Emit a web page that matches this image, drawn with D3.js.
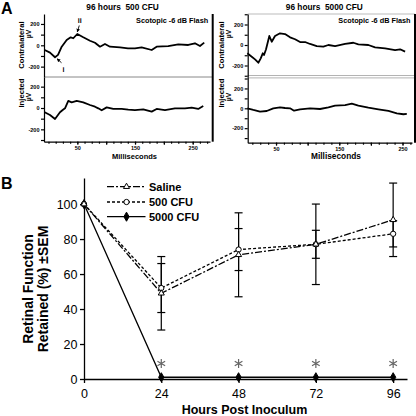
<!DOCTYPE html>
<html><head><meta charset="utf-8">
<script src="https://cdn.jsdelivr.net/npm/d3@7"></script>
<style>
body{margin:0;background:#fff}
svg{display:block}
text{font-family:"Liberation Sans",Arial,Helvetica,sans-serif;fill:#000}
</style>
</head><body>
<svg id="c" width="416" height="416"></svg>
<script>
// ---------------- DATA ----------------
// Panel A: ERG traces, [milliseconds, microvolts]
const contra500 = [[-6.6,-44],[2.6,-69],[11.3,-112],[16.5,-90],[22.9,-13],[31.5,50],[38.5,75],[43,66],[49.9,106],[60.3,75],[71.9,43],[80.6,24],[89.3,-13],[97.9,12],[106.6,-13],[124,-19],[137.8,-28],[149.9,-28],[161.5,-19],[178.9,-44],[187.5,-13],[207.6,-7],[225,9],[242.3,3],[253.9,19],[262.6,-7],[270,25]];
const inj500 = [[-6.6,-40],[2.6,-66],[11.3,-103],[19.9,-40],[24.6,-19],[28.6,-3],[34.3,66],[40.2,53],[48.9,66],[60.3,53],[71.9,28],[80.6,12],[86.3,-3],[92.2,-22],[100.9,6],[112.3,-9],[126.9,-9],[138.3,-16],[149.9,-19],[164.3,-12],[178.9,-34],[187.5,-9],[201.9,-19],[219.2,-3],[236.6,-3],[248.2,3],[259.6,-9],[268.3,19]];
const contra5000 = [[4.6,-81],[11.6,-114],[16.8,-140],[22,-173],[25.8,-130],[29,-81],[31,-98],[34.2,-42],[39.4,88],[43.2,32],[48.4,88],[56.3,114],[64.2,107],[72.2,75],[80.1,56],[88,29],[95.9,29],[103.8,10],[114.4,-10],[124.8,-16],[132.8,0],[143.4,-10],[159.2,10],[172.3,22],[180.2,7],[196,0],[206.6,-23],[222.5,-33],[238.3,-49],[246.2,-42],[254.1,-65]];
const inj5000 = [[4.6,0],[14.1,-17],[24.7,-33],[35.3,-27],[45.7,0],[56.3,10],[64.2,3],[72.2,0],[78.5,-24],[88,-10],[103.8,0],[119.6,-7],[132.8,10],[143.4,26],[159.2,33],[169.8,46],[180.2,26],[196,6],[211.9,-10],[227.7,-27],[241,-50],[251.4,-60],[256.8,-57]];
const panelTitles = ["96 hours  500 CFU", "96 hours  5000 CFU"];
const uvTicks = [-300,-200,-100,0,100,200,300];
const uvLabels = [-200,0,200];
const msMajor = [50,100,150,200,250];
const msLabels = [50,150,250];

// Panel B: retinal function retained
const hours = [0,24,48,72,96];
const saline = [100,49,71,77,91];
const salineErr = [0,21,24,23,21];
const cfu500 = [100,52,74,77,83];
const cfu500Err = [0,14,12,8,7.5];
const cfu5000 = [100,1,1,1,1];
const sigHours = [24,48,72,96];
const pctTicks = [0,20,40,60,80,100];
const seriesNames = ["Saline","500 CFU","5000 CFU"];

// ---------------- DRAW ----------------
const svg = d3.select("#c");
const font = "'Liberation Sans',Arial,sans-serif";

svg.append("text").attr("x",1).attr("y",13.5).attr("font-size",16).attr("font-weight","bold").text("A");
svg.append("text").attr("x",1).attr("y",188.5).attr("font-size",16).attr("font-weight","bold").text("B");

const panelsA = [
  {title:panelTitles[0], upper:contra500, lower:inj500, xDom:[-7.8,280], left:44, xEnd:210, border:212.7,
   top:14, mid:77, bottom:141.7, uZero:45.3, uK:0.1067, lZero:108, lK:0.1067,
   titleX:122.5, msX:134.5, msSize:7.5, labX:23.5, uvX:31, topLine:false, doubleSep:false},
  {title:panelTitles[1], upper:contra5000, lower:inj5000, xDom:[5.2,265], left:247.7, xEnd:412, border:415,
   top:14, mid:76.7, bottom:142.7, uZero:45, uK:0.1025, lZero:108.3, lK:0.0993,
   titleX:324.3, msX:336, msSize:8.3, labX:224, uvX:231, topLine:true, doubleSep:true}
];

const defs = svg.append("defs");
defs.append("marker").attr("id","ah").attr("viewBox","0 0 10 10").attr("refX",9).attr("refY",5)
  .attr("markerWidth",4).attr("markerHeight",4).attr("orient","auto")
  .append("path").attr("d","M0,0L10,5L0,10z").attr("fill","#000");

panelsA.forEach((p,i) => {
  const g = svg.append("g");
  const x = d3.scaleLinear().domain(p.xDom).range([p.left,p.xEnd]);
  const yU = d3.scaleLinear().domain([(p.uZero-p.mid)/p.uK,(p.uZero-p.top)/p.uK]).range([p.mid,p.top]);
  const yL = d3.scaleLinear().domain([(p.lZero-p.bottom)/p.lK,(p.lZero-p.mid)/p.lK]).range([p.bottom,p.mid]);

  if (p.topLine) g.append("line").attr("x1",p.left).attr("x2",p.border).attr("y1",p.top).attr("y2",p.top).attr("stroke","#bbb").attr("stroke-width",1);
  if (p.doubleSep) {
    [p.mid-1.2,p.mid+1.2].forEach(yy => g.append("line").attr("x1",p.left).attr("x2",p.border).attr("y1",yy).attr("y2",yy).attr("stroke","#aaa").attr("stroke-width",0.9));
  } else {
    g.append("line").attr("x1",p.left).attr("x2",p.border).attr("y1",p.mid).attr("y2",p.mid).attr("stroke","#888").attr("stroke-width",1);
  }
  g.append("line").attr("x1",p.border).attr("x2",p.border).attr("y1",p.top).attr("y2",p.bottom).attr("stroke","#000").attr("stroke-width",2);

  [yU,yL].forEach(ys => {
    const dom = ys.domain();
    const ax = d3.axisLeft(ys).tickValues(uvTicks.filter(v => v>=dom[0]-1 && v<=dom[1]+1))
      .tickSize(3).tickSizeOuter(0).tickPadding(1.5)
      .tickFormat(v => uvLabels.includes(v) ? v : "");
    const a = g.append("g").attr("transform",`translate(${p.left},0)`).call(ax);
    a.selectAll("text").attr("font-size",5.5).attr("font-weight","bold").attr("font-family",font);
    a.selectAll("path,line").attr("stroke","#000").attr("stroke-width",1.2);
  });

  const minor = d3.range(0, p.xDom[1], 12.5).filter(v => v>=p.xDom[0]);
  const axMinor = d3.axisBottom(x).tickValues(minor).tickSize(2).tickSizeOuter(0).tickFormat("");
  const am = g.append("g").attr("transform",`translate(0,${p.bottom})`).call(axMinor);
  am.selectAll("path,line").attr("stroke","#000").attr("stroke-width",1.2);
  const axMajor = d3.axisBottom(x).tickValues(msMajor).tickSize(3).tickSizeOuter(0).tickPadding(1.5)
    .tickFormat(v => msLabels.includes(v) ? v : "");
  const aM = g.append("g").attr("transform",`translate(0,${p.bottom})`).call(axMajor);
  aM.select(".domain").remove();
  aM.selectAll("line").attr("stroke","#000").attr("stroke-width",1.2);
  aM.selectAll("text").attr("font-size",5.5).attr("font-weight","bold").attr("font-family",font);

  const lineU = d3.line().x(d => x(d[0])).y(d => yU(d[1]));
  const lineL = d3.line().x(d => x(d[0])).y(d => yL(d[1]));
  g.append("path").attr("d",lineU(p.upper)).attr("fill","none").attr("stroke","#000").attr("stroke-width",1.8).attr("stroke-linejoin","round");
  g.append("path").attr("d",lineL(p.lower)).attr("fill","none").attr("stroke","#000").attr("stroke-width",1.8).attr("stroke-linejoin","round");

  g.append("text").attr("x",p.titleX).attr("y",10).attr("text-anchor","middle").attr("font-size",8.3).attr("font-weight","bold").attr("xml:space","preserve").text(p.title);
  g.append("text").attr("x",p.border-4.5).attr("y",22.5).attr("text-anchor","end").attr("font-size",7.3).attr("font-weight","bold").text("Scotopic -6 dB Flash");
  g.append("text").attr("x",p.msX).attr("y",159).attr("text-anchor","middle").attr("font-size",p.msSize).attr("font-weight","bold").text("Milliseconds");
  const vlab = (txt,xx,yy,fs) => g.append("text").attr("transform",`translate(${xx},${yy}) rotate(-90)`).attr("text-anchor","middle").attr("font-size",fs).attr("font-weight","bold").text(txt);
  vlab("Contralateral",p.labX,45,7.7);
  vlab("µV",p.uvX,34,7);
  vlab("Injected",p.labX,93,7.7);
  vlab("µV",p.uvX,97,7);

  if (i===0) {
    const pk = p.upper.reduce((a,b)=> b[1]>a[1]?b:a);
    const tr = p.upper.reduce((a,b)=> b[1]<a[1]?b:a);
    const px = x(pk[0]), py = yU(pk[1]), tx = x(tr[0]), ty = yU(tr[1]);
    g.append("text").attr("x",px+2.5).attr("y",py-10.5).attr("text-anchor","middle").attr("font-size",7).attr("font-weight","bold").text("ii");
    g.append("text").attr("x",tx+8.5).attr("y",ty+14.5).attr("text-anchor","middle").attr("font-size",7).attr("font-weight","bold").text("i");
    g.append("line").attr("x1",px+2).attr("y1",py-8.5).attr("x2",px).attr("y2",py-2).attr("stroke","#000").attr("stroke-width",0.9).attr("marker-end","url(#ah)");
    g.append("line").attr("x1",tx+6.5).attr("y1",ty+5.5).attr("x2",tx+2).attr("y2",ty+1.5).attr("stroke","#000").attr("stroke-width",0.9).attr("marker-end","url(#ah)");
  }
});

// ---------------- Panel B ----------------
const xB = d3.scaleLinear().domain([0,100.3]).range([84,407]);
const yB = d3.scaleLinear().domain([0,114.9]).range([379,178]);
const gB = svg.append("g");

const ayB = gB.append("g").attr("transform","translate(84,0)")
  .call(d3.axisLeft(yB).tickValues(pctTicks).tickSize(4).tickSizeOuter(0).tickPadding(2.5));
const axB = gB.append("g").attr("transform","translate(0,379)")
  .call(d3.axisBottom(xB).tickValues(hours).tickSize(4).tickSizeOuter(0).tickPadding(6));
[ayB,axB].forEach(a => {
  a.selectAll("path,line").attr("stroke","#000").attr("stroke-width",1.3);
  a.selectAll("text").attr("font-size",12.5).attr("font-family",font).attr("fill","#000");
});

const styles = [
  {vals:saline, err:salineErr, dash:"7,2,2,2", sym:d3.symbolTriangle, size:16, fill:"#fff"},
  {vals:cfu500, err:cfu500Err, dash:"3,2", sym:d3.symbolCircle, size:22, fill:"#fff"},
  {vals:cfu5000, err:null, dash:null, sym:d3.symbolDiamond, size:24, fill:"#000"}
];

styles.forEach(s => {
  if (!s.err) return;
  hours.forEach((h,i) => {
    if (!s.err[i]) return;
    const cx = xB(h), y1 = yB(s.vals[i]+s.err[i]), y2 = yB(s.vals[i]-s.err[i]);
    gB.append("line").attr("x1",cx).attr("x2",cx).attr("y1",y1).attr("y2",y2).attr("stroke","#000").attr("stroke-width",1.2);
    [y1,y2].forEach(yy => gB.append("line").attr("x1",cx-4).attr("x2",cx+4).attr("y1",yy).attr("y2",yy).attr("stroke","#000").attr("stroke-width",1.2));
  });
});

const lineB = d3.line().x((d,i)=>xB(hours[i])).y(d=>yB(d));
styles.slice().reverse().forEach(s => {
  gB.append("path").attr("d",lineB(s.vals)).attr("fill","none").attr("stroke","#000").attr("stroke-width",1.3)
    .attr("stroke-dasharray",s.dash);
});
styles.slice().reverse().forEach(s => {
  s.vals.forEach((v,i) => {
    gB.append("path").attr("d",d3.symbol(s.sym,s.size)()).attr("transform",`translate(${xB(hours[i])},${yB(v)})`)
      .attr("fill",s.fill).attr("stroke","#000").attr("stroke-width",1);
  });
});

sigHours.forEach(h => {
  gB.append("path").attr("d",d3.symbol(d3.symbolAsterisk,55)()).attr("transform",`translate(${xB(h)},363.5)`)
    .attr("fill","none").attr("stroke","#666").attr("stroke-width",1.2);
});

const legY = [186.7,202,216.7];
styles.forEach((s,i) => {
  gB.append("line").attr("x1",107).attr("x2",145.5).attr("y1",legY[i]).attr("y2",legY[i]).attr("stroke","#000").attr("stroke-width",1.3).attr("stroke-dasharray",s.dash);
  gB.append("path").attr("d",d3.symbol(s.sym,s.size)()).attr("transform",`translate(126.5,${legY[i]})`).attr("fill",s.fill).attr("stroke","#000").attr("stroke-width",1);
  gB.append("text").attr("x",149).attr("y",legY[i]).attr("dy","0.36em").attr("font-size",11).attr("font-weight","bold").text(seriesNames[i]);
});

const yt = gB.append("text").attr("transform","translate(0,289) rotate(-90)").attr("text-anchor","middle").attr("font-size",14).attr("font-weight","bold");
yt.append("tspan").attr("x",0).attr("y",33).text("Retinal Function");
yt.append("tspan").attr("x",0).attr("y",47.5).text("Retained (%) ±SEM");
gB.append("text").attr("x",244.5).attr("y",414).attr("text-anchor","middle").attr("font-size",12.5).attr("font-weight","bold").text("Hours Post Inoculum");
</script>
</body></html>
